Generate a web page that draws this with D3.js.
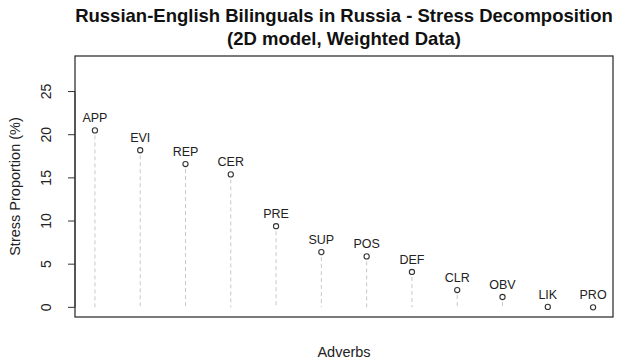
<!DOCTYPE html>
<html>
<head>
<meta charset="utf-8">
<script src="https://d3js.org/d3.v7.min.js"></script>
<style>
  body { margin: 0; background: #fff; }
  text { font-family: "Liberation Sans", Arial, sans-serif; }
</style>
</head>
<body>
<div id="chart"></div>
<script>
// adverb codes and stress proportions (%)
var adverbs = ["APP", "EVI", "REP", "CER", "PRE", "SUP", "POS", "DEF", "CLR", "OBV", "LIK", "PRO"];
var stress = [20.5, 18.2, 16.6, 15.4, 9.4, 6.4, 5.9, 4.1, 2.0, 1.2, 0.05, 0.0];
var yTicks = [0, 5, 10, 15, 20, 25];

var W = 624, H = 360;
var box = { left: 75, right: 613, top: 56, bottom: 317 };

var svg = d3.select("#chart").append("svg")
  .attr("width", W).attr("height", H);

// R style: xlim/ylim padded by 4% on each side
var n = adverbs.length;
var xpad = (n - 1) * 0.04, ypad = 28 * 0.04;
var x = d3.scaleLinear().domain([1 - xpad, n + xpad]).range([box.left, box.right]);
var y = d3.scaleLinear().domain([0 - ypad, 28 + ypad]).range([box.bottom, box.top]);

var data = adverbs.map(function(a, i) { return { name: a, i: i + 1, v: stress[i] }; });

// dashed drop lines
svg.selectAll("line.drop").data(data.filter(function(d) { return y(0) - y(d.v) > 6; }))
  .enter().append("line")
  .attr("class", "drop")
  .attr("x1", function(d) { return x(d.i); })
  .attr("x2", function(d) { return x(d.i); })
  .attr("y1", function(d) { return y(d.v) + 5; })
  .attr("y2", y(0))
  .attr("stroke", "#c8c8c8")
  .attr("stroke-width", 1)
  .attr("stroke-dasharray", "4,3");

// points
svg.selectAll("circle").data(data).enter().append("circle")
  .attr("cx", function(d) { return x(d.i); })
  .attr("cy", function(d) { return y(d.v); })
  .attr("r", 2.6)
  .attr("fill", "#fff")
  .attr("stroke", "#333")
  .attr("stroke-width", 1.1);

// labels above points
svg.selectAll("text.lab").data(data).enter().append("text")
  .attr("class", "lab")
  .attr("x", function(d) { return x(d.i); })
  .attr("y", function(d) { return y(d.v) - 8; })
  .attr("text-anchor", "middle")
  .attr("font-size", 12.5)
  .attr("fill", "#222")
  .text(function(d) { return d.name; });

// plot box
svg.append("rect")
  .attr("x", box.left).attr("y", box.top)
  .attr("width", box.right - box.left).attr("height", box.bottom - box.top)
  .attr("fill", "none").attr("stroke", "#333").attr("stroke-width", 1.3);

// y axis
var yAxis = svg.append("g").attr("transform", "translate(" + box.left + ",0)");
yAxis.append("line")
  .attr("x1", 0).attr("x2", 0)
  .attr("y1", y(0)).attr("y2", y(25))
  .attr("stroke", "#333");
yAxis.selectAll("line.tick").data(yTicks).enter().append("line")
  .attr("class", "tick")
  .attr("x1", -7).attr("x2", 0)
  .attr("y1", function(d) { return y(d); })
  .attr("y2", function(d) { return y(d); })
  .attr("stroke", "#333");
yAxis.selectAll("text").data(yTicks).enter().append("text")
  .attr("transform", function(d) { return "translate(-24," + y(d) + ") rotate(-90)"; })
  .attr("text-anchor", "middle")
  .attr("font-size", 14)
  .attr("fill", "#222")
  .text(function(d) { return d; });

// axis titles
svg.append("text")
  .attr("transform", "translate(20," + ((box.top + box.bottom) / 2) + ") rotate(-90)")
  .attr("text-anchor", "middle")
  .attr("font-size", 14.5)
  .attr("fill", "#222")
  .text("Stress Proportion (%)");

svg.append("text")
  .attr("x", (box.left + box.right) / 2)
  .attr("y", 357)
  .attr("text-anchor", "middle")
  .attr("font-size", 14.5)
  .attr("fill", "#222")
  .text("Adverbs");

// title
var title = svg.append("text")
  .attr("text-anchor", "middle")
  .attr("font-size", 18.5)
  .attr("font-weight", "bold")
  .attr("fill", "#111");
title.append("tspan").attr("x", (box.left + box.right) / 2).attr("y", 22)
  .text("Russian-English Bilinguals in Russia - Stress Decomposition");
title.append("tspan").attr("x", (box.left + box.right) / 2).attr("y", 45)
  .text("(2D model, Weighted Data)");
</script>
</body>
</html>
